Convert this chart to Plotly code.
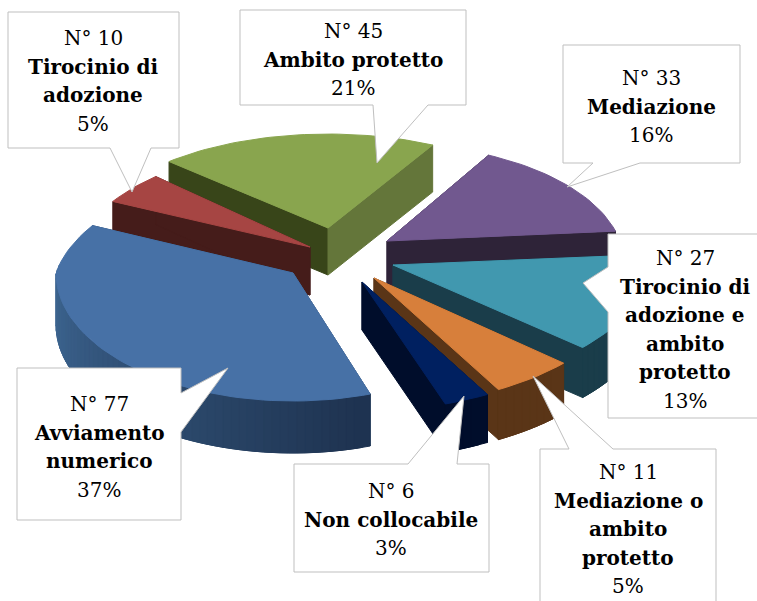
import math
import plotly.graph_objects as go

# ---- data (clockwise from the lower right) ----
categories = ["Avviamento numerico", "Tirocinio di adozione", "Ambito protetto", "Mediazione",
              "Tirocinio di adozione e ambito protetto", "Mediazione o ambito protetto", "Non collocabile"]
counts = [77, 10, 45, 33, 27, 11, 6]
percent_labels = ["37%", "5%", "21%", "16%", "13%", "5%", "3%"]

# ---- styling ----
top_colors = ["#4771a6", "#a64543", "#89a54e", "#71588f", "#4198af", "#d77f3b", "#002060"]
cut_start_colors = ["#2e4a6e", "#451c1a", "#384519", "#2e2338", "#1a3d4a", "#5a3517", "#000d2b"]
cut_end_colors = ["#2e4a6e", "#451c1a", "#64763a", "#2e2338", "#1a3d4a", "#5a3517", "#000d2b"]
wall_from = ["#1e3350", "#451c1a", "#64763a", "#2e2338", "#1a3d4a", "#5a3517", "#000d2b"]
wall_to = ["#3f6894", "#451c1a", "#64763a", "#2e2338", "#1a3d4a", "#5a3517", "#000d2b"]

# ---- 3D pie geometry (exploded wedge apex, in picture pixels) ----
START_ANGLE = 71.0
FAR_SIDE_SHRINK = 0.19          # the far half of the pie is foreshortened
apex_x = [293, 310, 328, 387, 393, 374, 362]
apex_y = [273, 247, 228, 241, 265, 278, 282]
radius_x = [237, 233, 240, 233, 254, 254, 256]
radius_y = [128, 123, 116, 120, 124, 128, 129]
depth = [52, 48, 47, 48, 50, 50, 48]
start_nudge = [0, 0, 0, 3, 0, 0, 0]
end_nudge = [0, 0, 3, 0, 0, 0, 0]
draw_order = [2, 3, 1, 4, 0, 5, 6]

# ---- callouts: outline, text lines ----
outlines = [
    [(17, 368), (181, 368), (181, 393), (228, 368), (181, 432), (181, 520), (17, 520)],
    [(8, 12), (179, 12), (179, 148), (151, 148), (132, 192), (110, 148), (8, 148)],
    [(240, 10), (466, 10), (466, 105), (428, 105), (377, 163), (373, 105), (240, 105)],
    [(563, 45), (740, 45), (740, 163), (640, 163), (567, 187), (593, 163), (563, 163)],
    [(608, 234), (760, 234), (760, 418), (608, 418), (608, 312), (583, 283), (608, 267)],
    [(540, 449), (569, 449), (533, 376), (613, 449), (716, 449), (716, 610), (540, 610)],
    [(294, 464), (408, 464), (464, 396), (457, 464), (489, 464), (489, 572), (294, 572)],
]
label_center_x = [99, 93, 353, 651, 685, 628, 391]
label_lines = [
    (["N° 77", "<b>Avviamento</b>", "<b>numerico</b>", percent_labels[0]], 404),
    (["N° 10", "<b>Tirocinio di</b>", "<b>adozione</b>", percent_labels[1]], 38),
    (["N° 45", "<b>Ambito protetto</b>", percent_labels[2]], 31),
    (["N° 33", "<b>Mediazione</b>", percent_labels[3]], 78),
    (["N° 27", "<b>Tirocinio di</b>", "<b>adozione e</b>", "<b>ambito</b>", "<b>protetto</b>", percent_labels[4]], 258),
    (["N° 11", "<b>Mediazione o</b>", "<b>ambito</b>", "<b>protetto</b>", percent_labels[5]], 472),
    (["N° 6", "<b>Non collocabile</b>", percent_labels[6]], 491),
]
LINE_PITCH = 28.6
FONT = "DejaVu Serif"
FONT_SIZE = 20


def mix(c1, c2, t):
    a = [int(c1[i:i + 2], 16) for i in (1, 3, 5)]
    b = [int(c2[i:i + 2], 16) for i in (1, 3, 5)]
    return "rgb({},{},{})".format(*[round(p + (q - p) * t) for p, q in zip(a, b)])


def add_poly(fig, xs, ys, color):
    fig.add_trace(go.Scatter(x=xs + xs[:1], y=ys + ys[:1], mode="lines", fill="toself",
                             fillcolor=color, line=dict(color=color, width=1),
                             hoverinfo="skip", showlegend=False))


fig = go.Figure()
total = sum(counts)
starts, a = [], START_ANGLE
for c in counts:
    starts.append(a)
    a += 360.0 * c / total

for i in draw_order:
    a0 = starts[i] + start_nudge[i]
    a1 = starts[i] + 360.0 * counts[i] / total + end_nudge[i]
    cx, cy, rx, ry, d = apex_x[i], apex_y[i], radius_x[i], radius_y[i], depth[i]
    n = max(4, int((a1 - a0) / 2))
    angs = [a0 + (a1 - a0) * k / n for k in range(n + 1)]
    scale = [1 + FAR_SIDE_SHRINK * min(0.0, math.sin(math.radians(t))) for t in angs]
    px = [cx + rx * s * math.cos(math.radians(t)) for t, s in zip(angs, scale)]
    py = [cy + ry * s * math.sin(math.radians(t)) for t, s in zip(angs, scale)]
    # cut faces
    add_poly(fig, [cx, px[0], px[0], cx], [cy, py[0], py[0] + d, cy + d], cut_start_colors[i])
    add_poly(fig, [cx, px[-1], px[-1], cx], [cy, py[-1], py[-1] + d, cy + d], cut_end_colors[i])
    # outer wall, only where it faces the viewer; each strip overlaps the next one
    for k in range(n - 1, -1, -1):
        mid = (angs[k] + angs[k + 1]) / 2
        if math.sin(math.radians(mid)) > -0.02:
            t = min(1.0, max(0.0, (mid - START_ANGLE) / 110.0))
            e = min(k + 2, n)
            add_poly(fig, [px[k], px[e], px[e], px[k]],
                     [py[k], py[e], py[e] + d, py[k] + d],
                     mix(wall_from[i], wall_to[i], t))
    # top face
    add_poly(fig, [cx] + px, [cy] + py, top_colors[i])

shapes = []
for outline in outlines:
    path = "M " + " L ".join(f"{x},{y}" for x, y in outline) + " Z"
    shapes.append(dict(type="path", path=path, fillcolor="white",
                       line=dict(color="#bfbfbf", width=1), layer="above"))

annotations = []
for (lines, y0), x0 in zip(label_lines, label_center_x):
    for j, line in enumerate(lines):
        annotations.append(dict(x=x0, y=y0 + j * LINE_PITCH, text=line, showarrow=False,
                                xanchor="center", yanchor="middle",
                                font=dict(family=FONT, size=FONT_SIZE, color="black")))

fig.update_layout(
    width=757, height=601, autosize=False, margin=dict(l=0, r=0, t=0, b=0),
    paper_bgcolor="white", plot_bgcolor="white", showlegend=False,
    xaxis=dict(range=[0, 757], visible=False, fixedrange=True),
    yaxis=dict(range=[601, 0], visible=False, fixedrange=True),
    shapes=shapes, annotations=annotations,
)
fig.write_html("out.html", config=dict(displayModeBar=False),
               post_script="document.body.style.margin='0';document.body.style.overflow='hidden';")
